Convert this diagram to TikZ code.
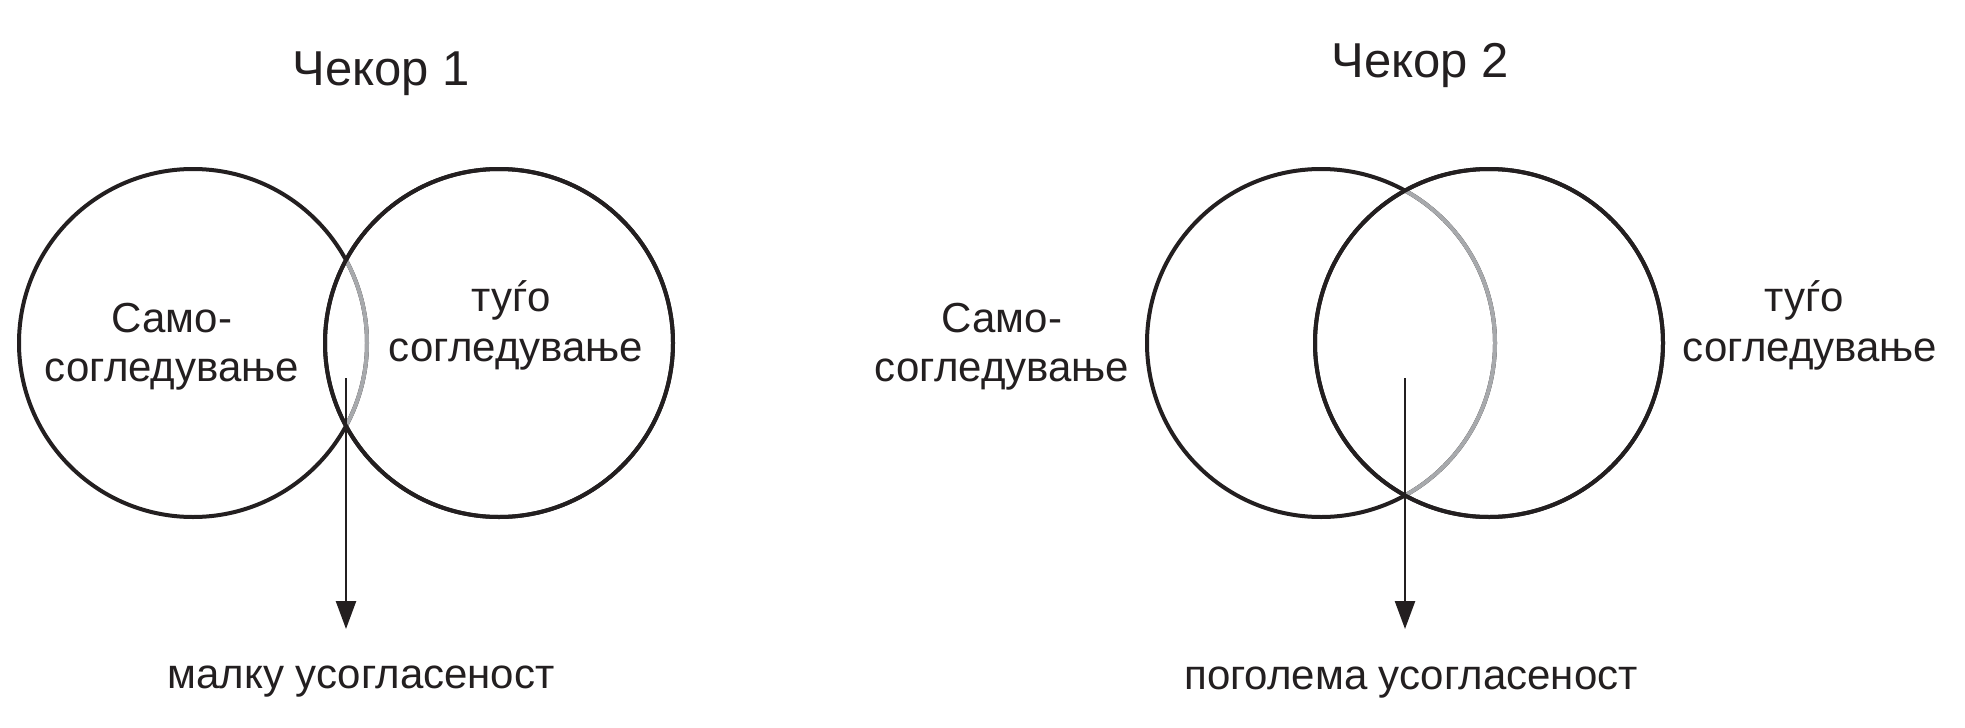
\documentclass[tikz,border=0pt]{standalone}
\usepackage{fontspec}
\setmainfont{Liberation Sans}
\usetikzlibrary{arrows.meta}
\definecolor{ink}{HTML}{231F20}
\definecolor{lightgr}{HTML}{A7A9AC}
\begin{document}
\begin{tikzpicture}[x=0.5pt,y=-0.5pt,
  circ/.style={draw=ink,line width=2pt},
  graycirc/.style={draw=lightgr,line width=2pt},
  lbl/.style={inner sep=0pt,anchor=base,text=ink,font=\fontsize{21pt}{25pt}\selectfont},
  ttl/.style={inner sep=0pt,anchor=base,text=ink,font=\fontsize{24.5pt}{29pt}\selectfont},
  arr/.style={draw=ink,line width=1.25pt,-{Triangle[width=10pt,length=14pt]}}]
\useasboundingbox (0,0) rectangle (1965,728);
\fill[white] (0,0) rectangle (1965,728);
% ---------- Step 1 ----------
\node[ttl] (t1) at (381,85) {Чекор 1};
\draw[circ] (193,343) circle[radius=174];
\draw[circ] (499,343) circle[radius=174];
\begin{scope}
  \clip (499,343) circle[radius=174];
  \draw[graycirc] (193,343) circle[radius=174];
\end{scope}
\draw[circ] (499,343) circle[radius=174];
\node[lbl] (s1a) at (172,332) {Само-};
\node[lbl] (s1b) at (172,381) {согледување};
\node[lbl] (o1a) at (511,311) {туѓо};
\node[lbl] (o1b) at (516,361) {согледување};
\coordinate (a1s) at (346,378);
\coordinate (a1e) at (346,629);
\draw[arr] (a1s) -- (a1e);
\node[lbl] (r1) at (361,688) {малку усогласеност};
% ---------- Step 2 ----------
\node[ttl] (t2) at (1420,77) {Чекор 2};
\draw[circ] (1321,343) circle[radius=174];
\draw[circ] (1489,343) circle[radius=174];
\begin{scope}
  \clip (1489,343) circle[radius=174];
  \draw[graycirc] (1321,343) circle[radius=174];
\end{scope}
\draw[circ] (1489,343) circle[radius=174];
\node[lbl] (s2a) at (1002,332) {Само-};
\node[lbl] (s2b) at (1002,381) {согледување};
\node[lbl] (o2a) at (1804,311) {туѓо};
\node[lbl] (o2b) at (1810,361) {согледување};
\coordinate (a2s) at (1405,378);
\coordinate (a2e) at (1405,629);
\draw[arr] (a2s) -- (a2e);
\node[lbl] (r2) at (1411,689) {поголема усогласеност};
\end{tikzpicture}
\end{document}
